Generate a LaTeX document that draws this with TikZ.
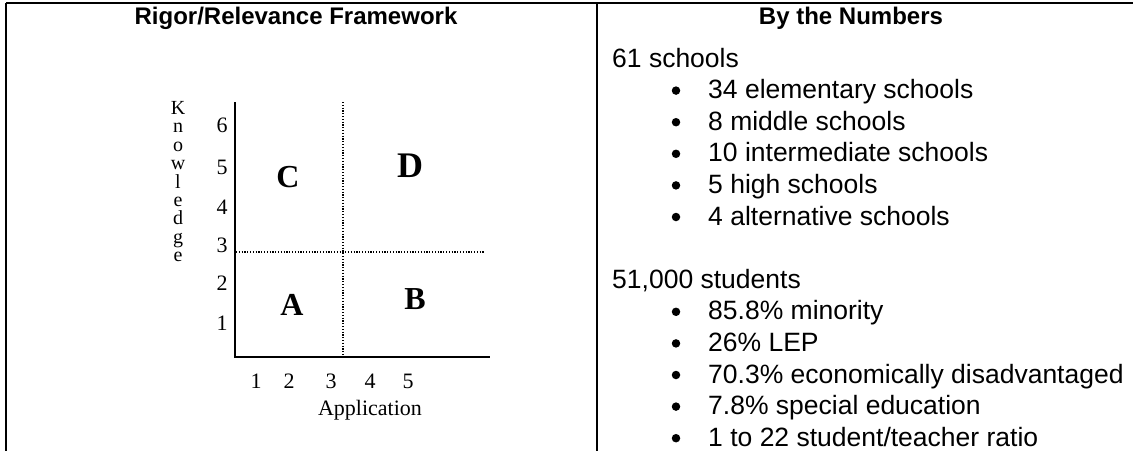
\documentclass[tikz,border=0pt]{standalone}
\usepackage{fontspec}
\setmainfont{Liberation Serif}
\newfontfamily\arialfont{Liberation Sans}
\begin{document}
\begin{tikzpicture}[x=1pt,y=-1pt,
  rule/.style={line width=2pt},
  axisline/.style={line width=1.8pt},
  dotline/.style={line width=1.3pt, dash pattern=on 1.2pt off 1.6pt},
  head/.style={font=\arialfont\bfseries\fontsize{24}{28}\selectfont, inner sep=0pt, anchor=base},
  body/.style={font=\arialfont\fontsize{26.5}{30}\selectfont, inner sep=0pt, anchor=base west},
  bul/.style={circle, fill=black, inner sep=0pt, minimum size=8.5pt},
  ynum/.style={font=\fontsize{22}{26}\selectfont, inner sep=0pt, anchor=base},
  xnum/.style={font=\fontsize{22}{26}\selectfont, inner sep=0pt, anchor=base},
  kletter/.style={font=\fontsize{20}{22}\selectfont, inner sep=0pt, anchor=base},
  quad/.style={font=\bfseries\fontsize{32}{36}\selectfont, inner sep=0pt},
]
\useasboundingbox (0,0) rectangle (1138,451);
% table rules
\coordinate (TL) at (6,3);
\coordinate (TR) at (1133,3);
\coordinate (BL) at (6,451);
\coordinate (TM) at (597,3);
\coordinate (BM) at (597,451);
\draw[rule] (TL) -- (TR);
\draw[rule] (TL) -- (BL);
\draw[rule] (TM) -- (BM);
% headers
\node[head] (h1) at (296,24) {Rigor/Relevance Framework};
\node[head] (h2) at (851,24) {By the Numbers};
% chart axes
\coordinate (Ytop) at (235,102);
\coordinate (O) at (235,357);
\coordinate (Xend) at (490,357);
\coordinate (Vtop) at (343,102);
\coordinate (Vbot) at (343,356);
\coordinate (Hl) at (236,252);
\coordinate (Hr) at (485,252);
\draw[axisline] (Ytop) -- (O) -- (Xend);
\draw[dotline] (Vtop) -- (Vbot);
\draw[dotline] (Hl) -- (Hr);
% y numbers
\node[ynum] (y6) at (222,132) {6};
\node[ynum] (y5) at (222,174) {5};
\node[ynum] (y4) at (222,214) {4};
\node[ynum] (y3) at (222,252) {3};
\node[ynum] (y2) at (222,290) {2};
\node[ynum] (y1) at (222,330) {1};
% Knowledge
\node[kletter] (k1) at (178,114.5) {K};
\node[kletter] (k2) at (178,132.9) {n};
\node[kletter] (k3) at (178,151.3) {o};
\node[kletter] (k4) at (178,169.7) {w};
\node[kletter] (k5) at (178,188.1) {l};
\node[kletter] (k6) at (178,206.5) {e};
\node[kletter] (k7) at (178,224.9) {d};
\node[kletter] (k8) at (178,243.3) {g};
\node[kletter] (k9) at (178,261.7) {e};
% x numbers
\node[xnum] (x1) at (256,388) {1};
\node[xnum] (x2) at (289,388) {2};
\node[xnum] (x3) at (331,388) {3};
\node[xnum] (x4) at (370,388) {4};
\node[xnum] (x5) at (408,388) {5};
\node[xnum] (app) at (370,415) {Application};
% quadrant letters
\node[quad] (qC) at (288,177) {C};
\node[quad, font=\bfseries\fontsize{36}{40}\selectfont] (qD) at (410,166) {D};
\node[quad] (qA) at (292,305) {A};
\node[quad] (qB) at (415,299) {B};
% right column
\node[body] (s0) at (612,67) {61 schools};
\node[bul] (b1) at (676,90.6) {};
\node[body] (s1) at (708,98.6) {34 elementary schools};
\node[bul] (b2) at (676,122.2) {};
\node[body] (s2) at (708,130.2) {8 middle schools};
\node[bul] (b3) at (676,153.8) {};
\node[body] (s3) at (708,161.8) {10 intermediate schools};
\node[bul] (b4) at (676,185.4) {};
\node[body] (s4) at (708,193.4) {5 high schools};
\node[bul] (b5) at (676,217) {};
\node[body] (s5) at (708,225) {4 alternative schools};
\node[body] (t0) at (612,288.2) {51,000 students};
\node[bul] (c1) at (676,311.8) {};
\node[body] (t1) at (708,319.8) {85.8\% minority};
\node[bul] (c2) at (676,343.4) {};
\node[body] (t2) at (708,351.4) {26\% LEP};
\node[bul] (c3) at (676,375) {};
\node[body] (t3) at (708,383) {70.3\% economically disadvantaged};
\node[bul] (c4) at (676,406.6) {};
\node[body] (t4) at (708,414.6) {7.8\% special education};
\node[bul] (c5) at (676,438.2) {};
\node[body] (t5) at (708,446.2) {1 to 22 student/teacher ratio};
\end{tikzpicture}
\end{document}
